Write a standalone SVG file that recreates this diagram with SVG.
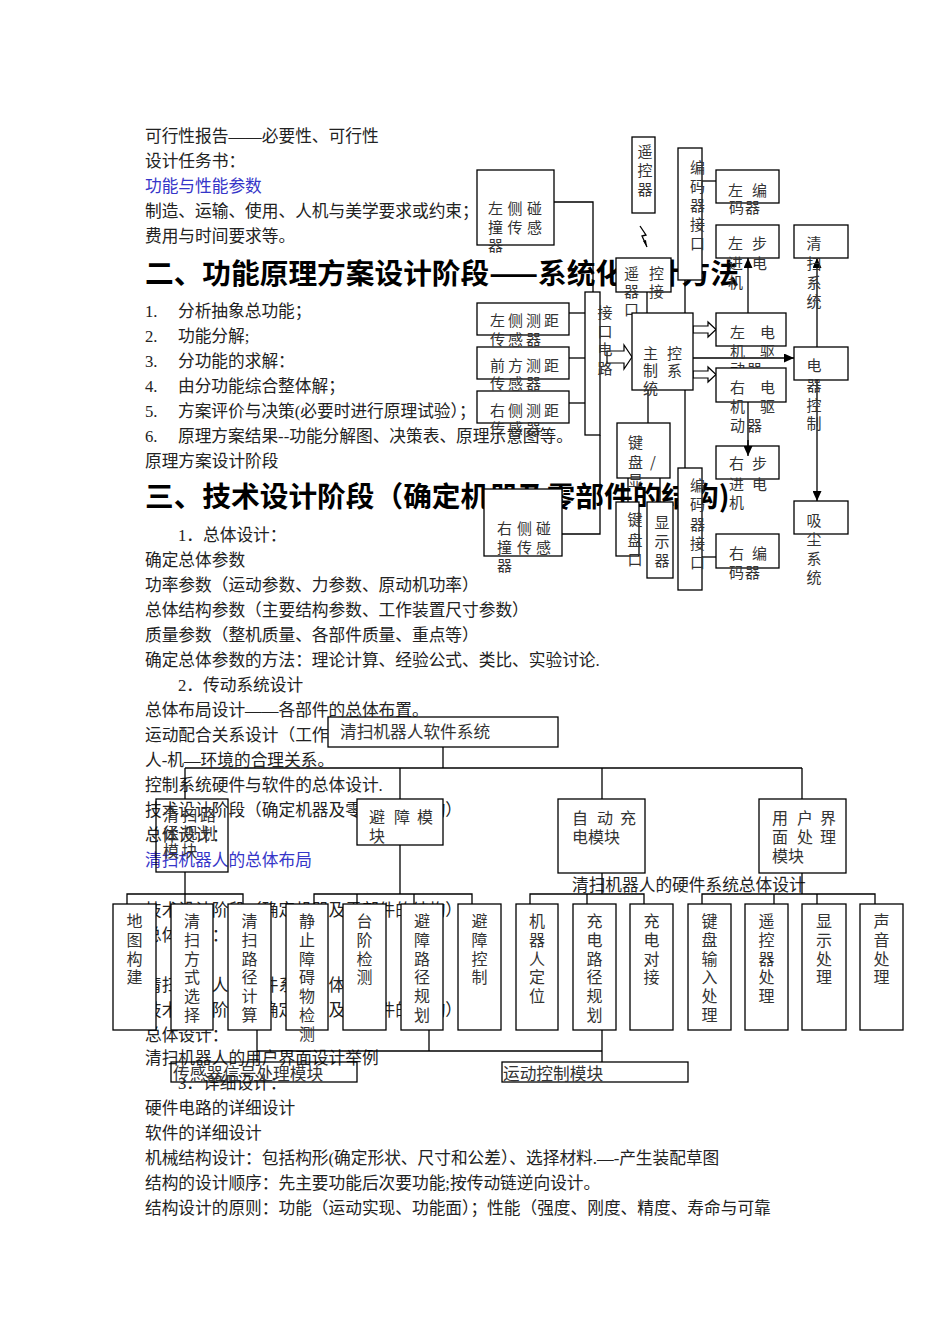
<svg xmlns="http://www.w3.org/2000/svg" width="950" height="1344" viewBox="0 0 950 1344">
<style>
.t{font-family:"Liberation Serif","Noto Sans CJK SC",sans-serif;font-size:16.7px;fill:#222}
.blue{fill:#3535c8}
.h{font-family:"Noto Sans CJK SC",sans-serif;font-size:28.7px;font-weight:bold;fill:#000}
.d{font-family:"Noto Sans CJK SC",sans-serif;font-size:15px;fill:#333}
.s{font-family:"Noto Sans CJK SC",sans-serif;font-size:16px;fill:#333}
.sm{font-family:"Noto Sans CJK SC",sans-serif;font-size:16.7px;fill:#333}
.bx{fill:#fff;stroke:#000;stroke-width:1.3}
.bn{fill:none;stroke:#000;stroke-width:1.3}
.ln{fill:none;stroke:#000;stroke-width:1.3}
.ha{fill:#fff;stroke:#000;stroke-width:1.2}
</style>
<defs>
<marker id="arr" markerUnits="userSpaceOnUse" markerWidth="10" markerHeight="9" refX="10" refY="4.5" orient="auto">
<path d="M0,0 L10,4.5 L0,9 z" fill="#000"/>
</marker>
</defs>
<rect width="950" height="1344" fill="#fff"/>

<g id="page-text">
<text class="t" x="145" y="142">可行性报告——必要性、可行性</text>
<text class="t" x="145" y="167">设计任务书：</text>
<text class="t blue" x="145" y="192">功能与性能参数</text>
<text class="t" x="145" y="217">制造、运输、使用、人机与美学要求或约束；</text>
<text class="t" x="145" y="242">费用与时间要求等。</text>
<text class="h" x="145" y="284">二、功能原理方案设计阶段——系统化设计方法</text>
<text class="t" x="145" y="317">1.</text><text class="t" x="178" y="317">分析抽象总功能；</text>
<text class="t" x="145" y="342">2.</text><text class="t" x="178" y="342">功能分解;</text>
<text class="t" x="145" y="367">3.</text><text class="t" x="178" y="367">分功能的求解：</text>
<text class="t" x="145" y="392">4.</text><text class="t" x="178" y="392">由分功能综合整体解；</text>
<text class="t" x="145" y="417">5.</text><text class="t" x="178" y="417">方案评价与决策(必要时进行原理试验）；</text>
<text class="t" x="145" y="442">6.</text><text class="t" x="178" y="442">原理方案结果--功能分解图、决策表、原理示意图等。</text>
<text class="t" x="145" y="467">原理方案设计阶段</text>
<text class="h" x="145" y="507">三、技术设计阶段（确定机器及零部件的结构)</text>
<text class="t" x="178" y="541">1．总体设计：</text>
<text class="t" x="145" y="566">确定总体参数</text>
<text class="t" x="145" y="591">功率参数（运动参数、力参数、原动机功率）</text>
<text class="t" x="145" y="616">总体结构参数（主要结构参数、工作装置尺寸参数）</text>
<text class="t" x="145" y="641">质量参数（整机质量、各部件质量、重点等）</text>
<text class="t" x="145" y="666">确定总体参数的方法：理论计算、经验公式、类比、实验讨论.</text>
<text class="t" x="178" y="691">2．传动系统设计</text>
<text class="t" x="145" y="716">总体布局设计——各部件的总体布置。</text>
<text class="t" x="145" y="741">运动配合关系设计（工作</text>
<text class="t" x="145" y="766">人-机—环境的合理关系。</text>
<text class="t" x="145" y="791">控制系统硬件与软件的总体设计.</text>
<text class="t" x="145" y="816">技术设计阶段（确定机器及零部件的结构）</text>
<text class="t" x="145" y="841">总体设计：</text>
<text class="t blue" x="145" y="866">清扫机器人的总体布局</text>
<text class="t" x="572" y="891">清扫机器人的硬件系统总体设计</text>
<text class="t" x="145" y="916">技术设计阶段（确定机器及零部件的结构）</text>
<text class="t" x="145" y="941">总体设计：</text>
<text class="t" x="145" y="991">清扫机器人的硬件系统总体设计</text>
<text class="t" x="145" y="1016">技术设计阶段（确定机器及零部件的结构）</text>
<text class="t" x="145" y="1041">总体设计：</text>
<text class="t" x="145" y="1064">清扫机器人的用户界面设计举例</text>
<text class="t" x="178" y="1089">3．详细设计：</text>
<text class="t" x="145" y="1114">硬件电路的详细设计</text>
<text class="t" x="145" y="1139">软件的详细设计</text>
<text class="t" x="145" y="1164">机械结构设计：包括构形(确定形状、尺寸和公差）、选择材料.—-产生装配草图</text>
<text class="t" x="145" y="1189">结构的设计顺序：先主要功能后次要功能;按传动链逆向设计。</text>
<text class="t" x="145" y="1214">结构设计的原则：功能（运动实现、功能面）；性能（强度、刚度、精度、寿命与可靠</text>
</g>

<!-- hardware diagram connectors -->
<g id="hw-connectors">
<polyline class="ln" points="554,202 593,202 593,292"/>
<line class="ln" x1="569" y1="313" x2="585" y2="313"/>
<line class="ln" x1="569" y1="358" x2="585" y2="358"/>
<line class="ln" x1="569" y1="403" x2="585" y2="403"/>
<polyline class="ln" points="562,534 600,534 600,435"/>
<line class="ln" x1="647" y1="292" x2="647" y2="313"/>
<line class="ln" x1="685" y1="280" x2="685" y2="313"/>
<line class="ln" x1="685" y1="390" x2="685" y2="468"/>
<line class="ln" x1="648" y1="390" x2="648" y2="423"/>
<line class="ln" x1="628" y1="478" x2="628" y2="502"/>
<line class="ln" x1="660" y1="478" x2="660" y2="502"/>
<line class="ln" x1="702" y1="181" x2="716" y2="181"/>
<line class="ln" x1="702" y1="557" x2="716" y2="557"/>
<line class="ln" x1="748" y1="313" x2="748" y2="258" marker-end="url(#arr)"/>
<line class="ln" x1="748" y1="402" x2="748" y2="456" marker-end="url(#arr)"/>
<line class="ln" x1="693" y1="358" x2="794" y2="358" marker-end="url(#arr)"/>
<line class="ln" x1="817" y1="347" x2="817" y2="258" marker-end="url(#arr)"/>
<line class="ln" x1="817" y1="380" x2="817" y2="501" marker-end="url(#arr)"/>
<polygon class="ha" points="607,351 624,351 624,345 632,357 624,369 624,363 607,363"/>
<polygon class="ha" points="693,326 708,326 708,322 716,329.5 708,337 708,333 693,333"/>
<polygon class="ha" points="693,371 708,371 708,367 716,374.5 708,382 708,378 693,378"/>
<path d="M640,226 L646,235 L642,236 L647,247" fill="none" stroke="#000" stroke-width="1.3"/>
<path d="M647,247 L643,241 L646,240 z" fill="#000"/>
</g>

<g id="hw-remote">
<rect class="bx" x="632" y="137" width="23" height="76"/>
<text class="d" text-anchor="middle" x="645 645 645" y="157 176 195">遥控器</text>
</g>
<g id="hw-left-bump">
<rect class="bx" x="477" y="170" width="77" height="75"/>
<text class="d" x="488 507.5 527" y="214">左侧碰</text>
<text class="d" x="488 507.5 527" y="233">撞传感</text>
<text class="d" x="488" y="251">器</text>
</g>
<g id="hw-enc-if-top">
<rect class="bx" x="678" y="148" width="24" height="132"/>
<text class="d" text-anchor="middle" x="697.5 697.5 697.5 697.5 697.5" y="173 192 211 230 249">编码器接口</text>
</g>
<g id="hw-left-enc">
<rect class="bx" x="716" y="170" width="63" height="33"/>
<text class="d" x="728 752" y="196">左编</text>
<text class="d" x="729 745" y="213">码器</text>
</g>
<g id="hw-left-step">
<rect class="bx" x="716" y="225" width="63" height="33"/>
<text class="d" x="728 752" y="249">左步</text>
<text class="d" x="728 752" y="269">进电</text>
<text class="d" x="728" y="288">机</text>
</g>
<g id="hw-clean">
<rect class="bx" x="794" y="225" width="54" height="33"/>
<text class="d" text-anchor="middle" x="814 814 814 814" y="249 269 288 307">清扫系统</text>
</g>
<g id="hw-remote-if">
<rect class="bx" x="616" y="258" width="55" height="34"/>
<text class="d" x="624 649" y="279">遥控</text>
<text class="d" x="624 649" y="297">器接</text>
<text class="d" x="624" y="315">口</text>
</g>
<g id="hw-if-circuit">
<rect class="bx" x="585" y="292" width="15" height="143"/>
<text class="d" text-anchor="middle" x="605 605 605 605" y="318 337 355 374">接口电路</text>
</g>
<g id="hw-left-range">
<rect class="bx" x="477" y="303" width="92" height="32"/>
<text class="d" x="490 508 526 544" y="326">左侧测距</text>
</g>
<g id="hw-front-range">
<rect class="bx" x="477" y="347" width="92" height="32"/>
<text class="d" x="490 508 526 544" y="371">前方测距</text>
</g>
<g id="hw-right-range">
<rect class="bx" x="477" y="391" width="92" height="32"/>
<text class="d" x="490 508 526 544" y="416">右侧测距</text>
</g>
<text class="d" x="490 508 526" y="345">传感器</text>
<text class="d" x="490 508 526" y="389">传感器</text>
<text class="d" x="490 508 526" y="434">传感器</text>
<g id="hw-main">
<rect class="bx" x="632" y="313" width="61" height="77"/>
<text class="d" x="643 667" y="359">主控</text>
<text class="d" x="643 667" y="376">制系</text>
<text class="d" x="643" y="394">统</text>
</g>
<g id="hw-left-drv">
<rect class="bx" x="716" y="313" width="70" height="33"/>
<text class="d" x="730 760" y="338">左电</text>
<text class="d" x="730 760" y="357">机驱</text>
<text class="d" x="730 747" y="375">动器</text>
</g>
<g id="hw-right-drv">
<rect class="bx" x="716" y="368" width="70" height="34"/>
<text class="d" x="730 760" y="393">右电</text>
<text class="d" x="730 760" y="412">机驱</text>
<text class="d" x="730 747" y="431">动器</text>
</g>
<g id="hw-elec">
<rect class="bx" x="794" y="347" width="54" height="33"/>
<text class="d" text-anchor="middle" x="814 814 814 814" y="371 391 411 429">电器控制</text>
</g>
<g id="hw-kbd-disp">
<rect class="bx" x="617" y="423" width="53" height="55"/>
<text class="d" x="628" y="448">键</text>
<text class="d" x="628 650" y="468">盘/</text>
<text class="d" x="628" y="486">显</text>
</g>
<g id="hw-right-bump">
<rect class="bx" x="484" y="489" width="78" height="67"/>
<text class="d" x="497 517 536" y="534">右侧碰</text>
<text class="d" x="497 517 536" y="553">撞传感</text>
<text class="d" x="497" y="571">器</text>
</g>
<g id="hw-kbd-if">
<rect class="bx" x="616" y="502" width="23" height="54"/>
<text class="d" text-anchor="middle" x="635 635 635" y="525 546 565">键盘口</text>
</g>
<g id="hw-display">
<rect class="bx" x="647" y="502" width="26" height="76"/>
<text class="d" text-anchor="middle" x="662 662 662" y="528 547 566">显示器</text>
</g>
<g id="hw-enc-if-bottom">
<rect class="bx" x="678" y="468" width="24" height="122"/>
<text class="d" text-anchor="middle" x="697.5 697.5 697.5 697.5 697.5" y="491 510 530 549 568">编码器接口</text>
</g>
<g id="hw-right-step">
<rect class="bx" x="716" y="446" width="63" height="33"/>
<text class="d" x="729 752" y="469">右步</text>
<text class="d" x="729 752" y="490">进电</text>
<text class="d" x="729" y="508">机</text>
</g>
<line class="ln" x1="748" y1="440" x2="748" y2="456" marker-end="url(#arr)"/>
<g id="hw-right-enc">
<rect class="bx" x="716" y="534" width="63" height="34"/>
<text class="d" x="729 752" y="559">右编</text>
<text class="d" x="729 745" y="578">码器</text>
</g>
<g id="hw-dust">
<rect class="bx" x="794" y="501" width="54" height="33"/>
<text class="d" text-anchor="middle" x="814 814 814 814" y="526 545 564 583">吸尘系统</text>
</g>

<!-- software tree -->
<g id="sw-connectors">
<line class="ln" x1="443" y1="747" x2="443" y2="768"/>
<line class="ln" x1="185" y1="768" x2="802" y2="768"/>
<line class="ln" x1="185" y1="768" x2="185" y2="799"/>
<line class="ln" x1="400" y1="768" x2="400" y2="799"/>
<line class="ln" x1="602" y1="768" x2="602" y2="799"/>
<line class="ln" x1="802" y1="768" x2="802" y2="799"/>
<line class="ln" x1="185" y1="872" x2="185" y2="904"/>
<polyline class="ln" points="127,904 127,894 243,894 243,904"/>
<line class="ln" x1="400" y1="845" x2="400" y2="894"/>
<polyline class="ln" points="314,904 314,894 472,894 472,904"/>
<line class="ln" x1="357" y1="894" x2="357" y2="904"/>
<line class="ln" x1="414" y1="894" x2="414" y2="904"/>
<line class="ln" x1="602" y1="873" x2="602" y2="894"/>
<polyline class="ln" points="530,904 530,894 644,894 644,904"/>
<line class="ln" x1="587" y1="894" x2="587" y2="904"/>
<line class="ln" x1="802" y1="873" x2="802" y2="894"/>
<polyline class="ln" points="702,904 702,894 875,894 875,904"/>
<line class="ln" x1="774" y1="894" x2="774" y2="904"/>
<line class="ln" x1="817" y1="894" x2="817" y2="904"/>
<line class="ln" x1="257" y1="1030" x2="257" y2="1062"/>
<line class="ln" x1="429" y1="1030" x2="429" y2="1051"/>
<line class="ln" x1="257" y1="1051" x2="602" y2="1051"/>
<line class="ln" x1="602" y1="1030" x2="602" y2="1062"/>
</g>

<g id="sw-root">
<rect class="bx" x="328" y="717" width="230" height="30"/>
<text class="sm" x="340" y="738">清扫机器人软件系统</text>
</g>
<g id="sw-clean-path">
<rect class="bn" x="156" y="799" width="72" height="73"/>
<text class="s" x="163 181.5 200" y="821">清扫路</text>
<text class="s" x="163 181.5 200" y="839">径规划</text>
<text class="s" x="163 181.5" y="857">模块</text>
</g>
<g id="sw-avoid">
<rect class="bx" x="357" y="799" width="86" height="46"/>
<text class="s" x="369 394 417" y="823">避障模</text>
<text class="s" x="369" y="842">块</text>
</g>
<g id="sw-charge">
<rect class="bx" x="558" y="799" width="87" height="74"/>
<text class="s" x="572 597 620" y="824">自动充</text>
<text class="s" x="572 588 604" y="843">电模块</text>
</g>
<g id="sw-ui">
<rect class="bx" x="759" y="799" width="87" height="74"/>
<text class="s" x="772 797 820" y="824">用户界</text>
<text class="s" x="772 797 820" y="843">面处理</text>
<text class="s" x="772 788" y="862">模块</text>
</g>

<g id="sw-map"><rect class="bx" x="113" y="904" width="43" height="126"/>
<text class="s" text-anchor="middle" x="134.5 134.5 134.5 134.5" y="927 945.8 964.6 983.4">地图构建</text></g>
<g id="sw-mode"><rect class="bx" x="171" y="904" width="42" height="126"/>
<text class="s" text-anchor="middle" x="192 192 192 192 192 192" y="927 945.8 964.6 983.4 1002.2 1021">清扫方式选择</text></g>
<g id="sw-path-calc"><rect class="bx" x="228" y="904" width="43" height="126"/>
<text class="s" text-anchor="middle" x="249.5 249.5 249.5 249.5 249.5 249.5" y="927 945.8 964.6 983.4 1002.2 1021">清扫路径计算</text></g>
<g id="sw-static-obs"><rect class="bx" x="286" y="904" width="42" height="126"/>
<text class="s" text-anchor="middle" x="307 307 307 307 307 307 307" y="927 945.8 964.6 983.4 1002.2 1021 1039.8">静止障碍物检测</text></g>
<g id="sw-step"><rect class="bx" x="343" y="904" width="43" height="126"/>
<text class="s" text-anchor="middle" x="364.5 364.5 364.5 364.5" y="927 945.8 964.6 983.4">台阶检测</text></g>
<g id="sw-avoid-path"><rect class="bx" x="401" y="904" width="42" height="126"/>
<text class="s" text-anchor="middle" x="422 422 422 422 422 422" y="927 945.8 964.6 983.4 1002.2 1021">避障路径规划</text></g>
<g id="sw-avoid-ctrl"><rect class="bx" x="458" y="904" width="43" height="126"/>
<text class="s" text-anchor="middle" x="479.5 479.5 479.5 479.5" y="927 945.8 964.6 983.4">避障控制</text></g>
<g id="sw-locate"><rect class="bx" x="516" y="904" width="42" height="126"/>
<text class="s" text-anchor="middle" x="537 537 537 537 537" y="927 945.8 964.6 983.4 1002.2">机器人定位</text></g>
<g id="sw-charge-path"><rect class="bx" x="573" y="904" width="43" height="126"/>
<text class="s" text-anchor="middle" x="594.5 594.5 594.5 594.5 594.5 594.5" y="927 945.8 964.6 983.4 1002.2 1021">充电路径规划</text></g>
<g id="sw-dock"><rect class="bx" x="630" y="904" width="43" height="126"/>
<text class="s" text-anchor="middle" x="651.5 651.5 651.5 651.5" y="927 945.8 964.6 983.4">充电对接</text></g>
<g id="sw-kbd"><rect class="bx" x="688" y="904" width="43" height="126"/>
<text class="s" text-anchor="middle" x="709.5 709.5 709.5 709.5 709.5 709.5" y="927 945.8 964.6 983.4 1002.2 1021">键盘输入处理</text></g>
<g id="sw-remote"><rect class="bx" x="745" y="904" width="43" height="126"/>
<text class="s" text-anchor="middle" x="766.5 766.5 766.5 766.5 766.5" y="927 945.8 964.6 983.4 1002.2">遥控器处理</text></g>
<g id="sw-display"><rect class="bx" x="802" y="904" width="44" height="126"/>
<text class="s" text-anchor="middle" x="824 824 824 824" y="927 945.8 964.6 983.4">显示处理</text></g>
<g id="sw-sound"><rect class="bx" x="860" y="904" width="43" height="126"/>
<text class="s" text-anchor="middle" x="881.5 881.5 881.5 881.5" y="927 945.8 964.6 983.4">声音处理</text></g>

<g id="sw-sensor">
<rect class="bn" x="171" y="1062" width="186" height="20"/>
<text class="sm" x="173" y="1080">传感器信号处理模块</text>
</g>
<g id="sw-motion">
<rect class="bn" x="502" y="1062" width="186" height="20"/>
<text class="sm" x="503" y="1080">运动控制模块</text>
</g>
</svg>
